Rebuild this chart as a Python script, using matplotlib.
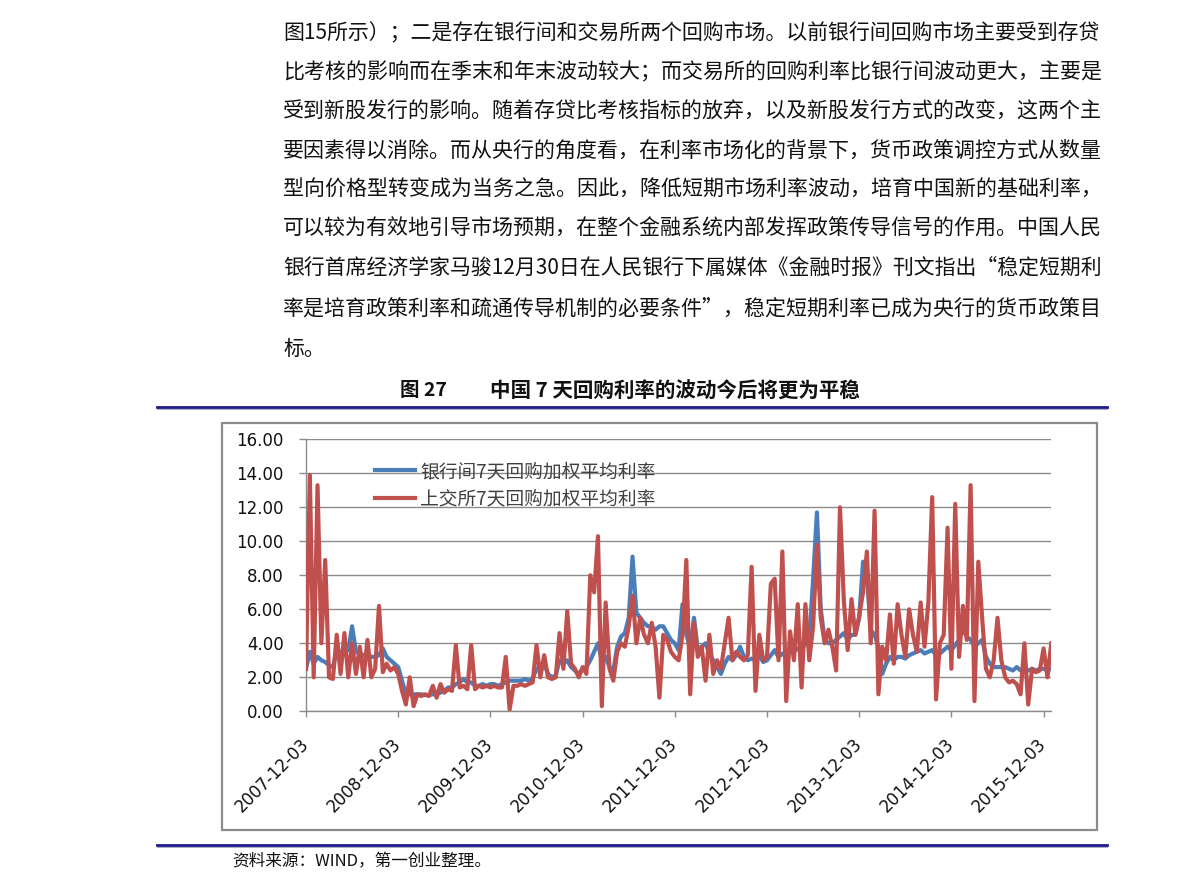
import matplotlib
matplotlib.use('Agg')
import matplotlib.pyplot as plt
import numpy as np
from matplotlib.patches import Rectangle
from matplotlib.lines import Line2D

plt.rcParams['font.family'] = ['Noto Sans CJK SC', 'DejaVu Sans']

# ---------------- data ----------------
paragraph_lines = [
    "图15所示）；二是存在银行间和交易所两个回购市场。以前银行间回购市场主要受到存贷",
    "比考核的影响而在季末和年末波动较大；而交易所的回购利率比银行间波动更大，主要是",
    "受到新股发行的影响。随着存贷比考核指标的放弃，以及新股发行方式的改变，这两个主",
    "要因素得以消除。而从央行的角度看，在利率市场化的背景下，货币政策调控方式从数量",
    "型向价格型转变成为当务之急。因此，降低短期市场利率波动，培育中国新的基础利率，",
    "可以较为有效地引导市场预期，在整个金融系统内部发挥政策传导信号的作用。中国人民",
    "银行首席经济学家马骏12月30日在人民银行下属媒体《金融时报》刊文指出“稳定短期利",
    "率是培育政策利率和疏通传导机制的必要条件”，稳定短期利率已成为央行的货币政策目",
    "标。",
]
figure_no = "图 27"
figure_title = "中国 7 天回购利率的波动今后将更为平稳"
source_note = "资料来源：WIND，第一创业整理。"

series_names = ["银行间7天回购加权平均利率", "上交所7天回购加权平均利率"]
tick_labels = ["2007-12-03", "2008-12-03", "2009-12-03", "2010-12-03", "2011-12-03",
               "2012-12-03", "2013-12-03", "2014-12-03", "2015-12-03"]
samples_per_year = 24  # half-monthly readings starting 2007-12-03

interbank_7d = [
    2.5, 3.5, 2.8, 3.2, 3.0, 2.9, 2.7, 2.6, 3.5, 3.3,
    3.9, 3.6, 5.0, 3.5, 3.4, 3.3, 3.4, 3.2, 3.2, 3.3,
    3.7, 3.2, 3.0, 2.8, 2.6, 1.8, 1.0, 1.0, 1.0, 1.0,
    1.0, 0.95, 0.95, 1.0, 1.0, 1.1, 1.2, 1.4, 1.4, 1.6,
    1.7, 1.9, 1.7, 1.7, 1.5, 1.5, 1.6, 1.5, 1.6, 1.6,
    1.5, 1.6, 1.7, 1.8, 1.8, 1.8, 1.8, 1.9, 1.8, 1.9,
    2.5, 2.6, 2.8, 2.2, 2.0, 2.1, 3.0, 2.8, 3.0, 2.6,
    2.4, 2.2, 2.5, 2.6, 3.0, 3.5, 4.0, 3.0, 3.2, 2.6,
    2.4, 3.8, 4.4, 4.6, 5.5, 9.1, 5.8, 5.5, 5.2, 5.0,
    5.0, 4.8, 5.0, 5.0, 4.6, 4.2, 4.0, 3.6, 6.3, 4.5,
    3.8, 5.5, 3.6, 3.8, 4.0, 3.4, 3.0, 2.6, 2.2, 2.8,
    3.2, 3.0, 3.3, 3.8, 3.2, 3.0, 3.1, 3.0, 3.3, 2.9,
    3.0, 3.3, 3.6, 3.2, 3.4, 3.2, 3.8, 3.5, 3.7, 3.6,
    4.0, 4.2, 7.8, 11.7, 6.0, 4.2, 4.0, 4.0, 4.2, 4.4,
    4.6, 4.2, 4.5, 4.5, 5.5, 8.8, 8.0, 4.8, 4.5, 3.8,
    2.2, 2.8, 3.2, 3.0, 3.2, 3.2, 3.1, 3.3, 3.4, 3.5,
    3.6, 3.4, 3.5, 3.6, 3.3, 3.4, 3.6, 3.8, 3.6, 3.9,
    4.2, 4.8, 4.4, 4.2, 3.8, 4.0, 4.2, 3.2, 2.8, 2.6,
    2.6, 2.6, 2.6, 2.5, 2.4, 2.6, 2.4, 2.5, 2.4, 2.5,
    2.4, 2.5, 2.5, 2.4, 2.5,
]

exchange_7d = [
    2.5, 13.9, 2.0, 13.3, 4.0, 8.9, 2.0, 1.9, 4.5, 2.2,
    4.6, 2.0, 4.0, 2.2, 3.8, 2.0, 4.2, 2.0, 2.5, 6.2,
    2.3, 2.8, 2.4, 2.6, 2.2, 1.2, 0.4, 2.0, 0.3, 1.0,
    0.9, 1.0, 0.9, 1.5, 0.8, 1.6, 1.1, 1.3, 1.2, 3.9,
    1.4, 1.5, 1.3, 3.9, 1.3, 1.5, 1.4, 1.5, 1.4, 1.5,
    1.4, 1.4, 3.2, 0.1, 1.5, 1.5, 1.6, 1.5, 1.6, 1.7,
    3.9, 2.0, 3.3, 2.0, 1.9, 2.0, 4.6, 2.5, 5.9, 2.8,
    2.5, 2.0, 2.6, 2.2, 8.0, 7.0, 10.3, 0.3, 6.4, 2.5,
    1.8, 3.5, 4.0, 3.8, 5.0, 6.8, 4.0, 5.5, 4.5, 4.0,
    5.2, 3.8, 0.8, 4.5, 4.2, 3.5, 3.2, 3.0, 4.5, 8.9,
    1.0, 5.2, 3.2, 3.8, 1.8, 4.5, 2.2, 3.0, 2.5, 4.0,
    5.5, 3.0, 3.5, 3.2, 3.0, 3.3, 8.5, 1.2, 4.5, 3.0,
    3.2, 7.5, 7.8, 3.0, 9.4, 0.6, 4.7, 3.0, 6.3, 1.4,
    6.3, 3.0, 5.0, 9.8, 5.5, 4.0, 4.8, 3.8, 2.4, 12.0,
    6.5, 3.6, 6.6, 4.5, 5.6, 7.0, 9.4, 4.0, 11.8, 1.0,
    3.8, 3.0, 5.7, 2.8, 6.3, 4.5, 3.2, 6.0, 4.5, 3.5,
    6.4, 3.8, 6.4, 12.6, 0.7, 4.0, 4.5, 10.8, 2.5, 12.2,
    3.2, 6.2, 4.2, 13.3, 0.6, 8.8, 5.5, 2.5, 2.0, 3.0,
    5.5, 3.0, 2.0, 1.7, 1.8, 1.6, 1.0, 4.0, 0.4, 2.5,
    2.3, 2.4, 3.7, 2.0, 4.0,
]

# ---------------- figure ----------------
W, H = 1191, 892
fig = plt.figure(figsize=(W / 100, H / 100), dpi=100)
fig.patch.set_facecolor('white')


def fx(px):
    return px / W


def fy(py):
    return 1 - py / H


renderer = fig.canvas.get_renderer()

# paragraph text (justified to the text column width)
col_left, col_right = 283, 1103
line_y = [33, 72, 111.5, 151, 190, 229, 268, 309, 349]
base_fs = 15
for i, (s, yy) in enumerate(zip(paragraph_lines, line_y)):
    t = fig.text(fx(col_left), fy(yy), s, fontsize=base_fs, ha='left', va='center',
                 color='#111111')
    if i < len(paragraph_lines) - 1:
        w = t.get_window_extent(renderer).width
        t.set_fontsize(base_fs * (col_right - col_left) / w)

# figure caption
fig.text(fx(400), fy(391), figure_no, fontsize=14, fontweight='bold', ha='left',
         va='center', color='#111111')
fig.text(fx(490), fy(391), figure_title, fontsize=14.8, fontweight='bold', ha='left',
         va='center', color='#111111')

# rules
for ry in (407, 845):
    fig.add_artist(Line2D([fx(157), fx(1107)], [fy(ry), fy(ry)], color='#1c1c8a',
                          linewidth=2.0, transform=fig.transFigure))
    fig.add_artist(Line2D([fx(157), fx(1107)], [fy(ry + 1.8), fy(ry + 1.8)],
                          color='#9a9ab8', linewidth=0.6, transform=fig.transFigure))

# source note
fig.text(fx(232), fy(862), source_note, fontsize=12, ha='left', va='center',
         color='#111111')

# chart frame
fig.add_artist(Rectangle((fx(222), fy(830)), fx(1097) - fx(222), fy(423) - fy(830),
                         transform=fig.transFigure, fill=False, edgecolor='#8c8c8c',
                         linewidth=1.6))

# axes
n = len(interbank_7d)
x = np.arange(n) / samples_per_year
x_max = (n - 1) / samples_per_year
px_per_year = 92.2
ax_left, ax_top, ax_bottom = 306, 439.3, 711.3
ax_right = ax_left + x_max * px_per_year
ax = fig.add_axes([fx(ax_left), fy(ax_bottom), fx(ax_right) - fx(ax_left),
                   fy(ax_top) - fy(ax_bottom)])
ax.set_facecolor('white')

l1, = ax.plot(x, interbank_7d, color='#4a7ebb', linewidth=3.0, solid_joinstyle='round',
              label=series_names[0], zorder=3)
l2, = ax.plot(x, exchange_7d, color='#c0504d', linewidth=3.0, solid_joinstyle='round',
              label=series_names[1], zorder=4)

ax.set_xlim(0, x_max)
ax.set_ylim(0, 16)
ax.set_yticks(np.arange(0, 16.1, 2))
ax.set_yticklabels([f"{v:.2f}" for v in np.arange(0, 16.1, 2)],
                   family='DejaVu Sans', fontsize=12)
ax.set_xticks(np.arange(len(tick_labels)))
ax.set_xticklabels(tick_labels, family='DejaVu Sans', fontsize=12, rotation=45,
                   ha='right', va='center', rotation_mode='anchor')
ax.grid(axis='y', color='#8c8c8c', linewidth=1.0)
ax.set_axisbelow(True)
for side in ('top', 'right'):
    ax.spines[side].set_visible(False)
for side in ('left', 'bottom'):
    ax.spines[side].set_color('#8c8c8c')
    ax.spines[side].set_linewidth(1.0)
ax.tick_params(axis='y', direction='out', length=5, width=1, color='#8c8c8c', pad=11,
               labelcolor='#111111')
ax.tick_params(axis='x', direction='out', length=4.5, width=1, color='#8c8c8c', pad=17,
               labelcolor='#111111')

leg = ax.legend(handles=[l1, l2], loc='upper left', bbox_to_anchor=(fx(375), fy(461)),
                bbox_transform=fig.transFigure, frameon=False, fontsize=13.5,
                handlelength=2.15, handletextpad=0.25, labelspacing=0.35, borderpad=0,
                borderaxespad=0, labelcolor='#404040')

fig.savefig('out.png', dpi=100, facecolor='white')
